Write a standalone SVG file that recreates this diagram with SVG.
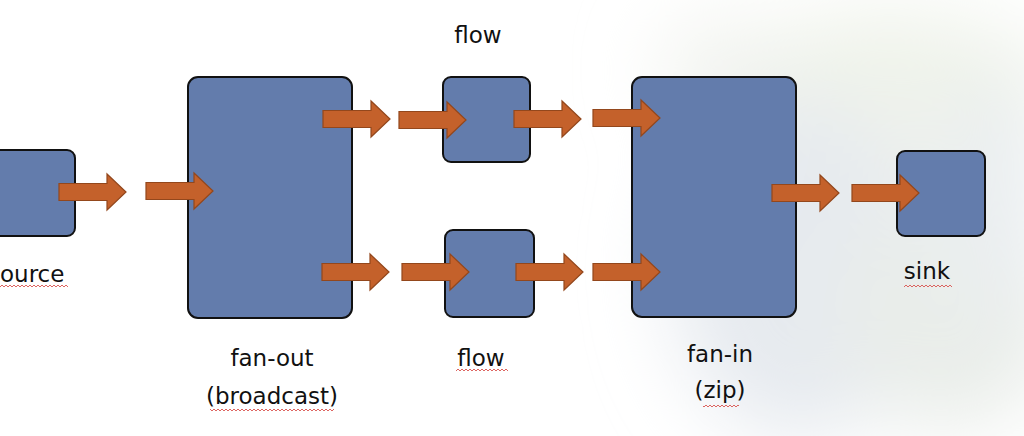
<svg xmlns="http://www.w3.org/2000/svg" xmlns:xlink="http://www.w3.org/1999/xlink" width="1024" height="436" viewBox="0 0 1024 436">
  <defs>
    <style>
      .box { fill: #637CAC; stroke: #111; stroke-width: 2; }
      .arr { fill: #C4612B; stroke: #93471C; stroke-width: 1.2; }
      .lbl { font-family: "DejaVu Sans", Verdana, sans-serif; font-size: 23px; fill: #111; text-anchor: middle; }
      .sq { fill: url(#squig); }
    </style>
    <filter id="haze" x="-50%" y="-50%" width="200%" height="200%">
      <feGaussianBlur stdDeviation="40"/>
    </filter>
    <pattern id="squig" patternUnits="userSpaceOnUse" width="4" height="4">
      <path d="M0,3 L2,1 L4,3" fill="none" stroke="#D9534F" stroke-width="0.9"/>
    </pattern>
    <path id="arrow" class="arr" d="M0,-8.5 H48 V-18 L67,0 L48,18 V8.5 H0 Z"/>
  </defs>

  <rect width="1024" height="436" fill="#ffffff"/>
  <g id="background" filter="url(#haze)">
    <ellipse cx="890" cy="90" rx="170" ry="80" fill="#eff3ea"/>
    <ellipse cx="800" cy="270" rx="130" ry="170" fill="#e6eaef"/>
    <ellipse cx="950" cy="310" rx="110" ry="120" fill="#e9ede9"/>
    <ellipse cx="720" cy="70" rx="60" ry="50" fill="#f1f3ee"/>
    <ellipse cx="990" cy="200" rx="60" ry="120" fill="#eaeef0"/>
  </g>

  <g id="node-source">
    <rect class="box" x="-20" y="150" width="95" height="86" rx="8"/>
    <text class="lbl" x="0" y="282" style="text-anchor:start">ource</text>
    <rect class="sq" x="0" y="284" width="68" height="4"/>
  </g>

  <g id="node-fanout">
    <rect class="box" x="188" y="77" width="164" height="241" rx="10"/>
    <text class="lbl" x="272" y="366">fan-out</text>
    <text class="lbl" x="272" y="404">(broadcast)</text>
    <rect class="sq" x="210" y="408" width="124" height="4"/>
  </g>

  <g id="node-flow-top">
    <rect class="box" x="443" y="77" width="87" height="85" rx="8"/>
    <text class="lbl" x="478" y="43">flow</text>
  </g>

  <g id="node-flow-bottom">
    <rect class="box" x="445" y="230" width="89" height="87" rx="8"/>
    <text class="lbl" x="481" y="366">flow</text>
    <rect class="sq" x="456" y="368" width="52" height="4"/>
  </g>

  <g id="node-fanin">
    <rect class="box" x="632" y="77" width="164" height="240" rx="10"/>
    <text class="lbl" x="720" y="362">fan-in</text>
    <text class="lbl" x="720" y="398">(zip)</text>
    <rect class="sq" x="703" y="404" width="36" height="4"/>
  </g>

  <g id="node-sink">
    <rect class="box" x="897" y="151" width="88" height="85" rx="8"/>
    <text class="lbl" x="927" y="279">sink</text>
    <rect class="sq" x="904" y="284" width="48" height="4"/>
  </g>

  <g id="connectors">
    <use xlink:href="#arrow" href="#arrow" x="59" y="192"/>
    <use xlink:href="#arrow" href="#arrow" x="146" y="191"/>
    <use xlink:href="#arrow" href="#arrow" x="323" y="119"/>
    <use xlink:href="#arrow" href="#arrow" x="399" y="120"/>
    <use xlink:href="#arrow" href="#arrow" x="514" y="119"/>
    <use xlink:href="#arrow" href="#arrow" x="593" y="118"/>
    <use xlink:href="#arrow" href="#arrow" x="322" y="272"/>
    <use xlink:href="#arrow" href="#arrow" x="402" y="272"/>
    <use xlink:href="#arrow" href="#arrow" x="516" y="272"/>
    <use xlink:href="#arrow" href="#arrow" x="593" y="272"/>
    <use xlink:href="#arrow" href="#arrow" x="772" y="193"/>
    <use xlink:href="#arrow" href="#arrow" x="852" y="193"/>
  </g>
</svg>
